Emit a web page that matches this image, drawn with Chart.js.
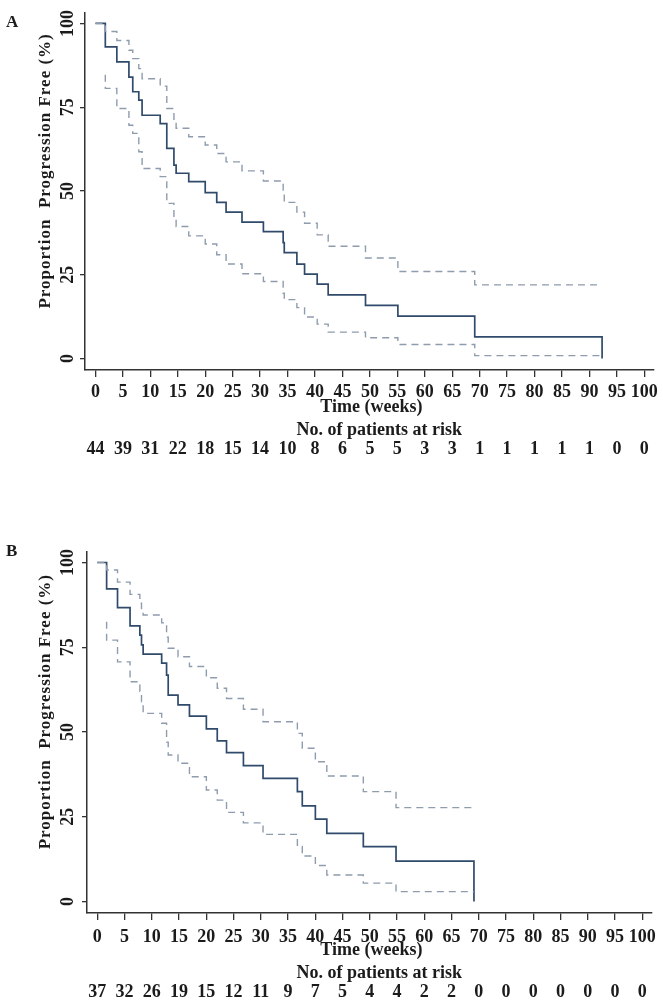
<!DOCTYPE html>
<html>
<head>
<meta charset="utf-8">
<script src="https://cdn.jsdelivr.net/npm/chart.js@4.4.0/dist/chart.umd.min.js"></script>
<style>
  html, body { margin: 0; padding: 0; background: #fff; }
  body { width: 663px; height: 1005px; position: relative; overflow: hidden; }
  canvas { position: absolute; left: 0; }
  #chartA { top: 0; }
  #chartB { top: 530px; }
</style>
</head>
<body>
<canvas id="chartA" width="663" height="470"></canvas>
<canvas id="chartB" width="663" height="475"></canvas>
<script>
// axis ticks
const timeTicks = [0, 5, 10, 15, 20, 25, 30, 35, 40, 45, 50, 55, 60, 65, 70, 75, 80, 85, 90, 95, 100];
const yTicks = [0, 25, 50, 75, 100];

// Panel A - Kaplan-Meier estimate with 95% CI (weeks, %)
const timesA = [0, 1.8, 3.9, 6.1, 6.8, 7.9, 8.5, 11.8, 13.0, 14.3, 14.7, 17.0, 20.0, 22.1, 23.8, 26.7, 30.6, 34.2, 34.4, 36.7, 38.1, 40.4, 42.4, 49.2, 55.1, 69.1, 92.3];
const survA = [100, 93.0, 88.5, 84.0, 79.6, 77.1, 72.6, 70.1, 62.7, 57.7, 55.3, 52.8, 49.5, 46.6, 43.7, 40.7, 37.9, 34.6, 31.6, 28.2, 25.2, 22.2, 19.0, 15.9, 12.7, 6.5, 0];
const upperA = [100, 97.6, 94.9, 92.0, 89.5, 86.5, 83.5, 81.3, 74.6, 70.8, 68.7, 66.2, 63.7, 61.2, 58.7, 56.0, 53.0, 49.8, 46.6, 43.7, 40.4, 36.9, 33.5, 30.0, 26.0, 22.0, 22.0];
const lowTimesA = [1.8, 1.8, 3.9, 6.1, 6.8, 7.9, 8.5, 11.8, 13.0, 14.3, 14.7, 17.0, 20.0, 22.1, 23.8, 26.7, 30.6, 34.2, 34.4, 36.7, 38.1, 40.4, 42.4, 49.2, 55.1, 69.1, 92.3];
const lowerA = [84.7, 80.6, 74.6, 69.6, 67.2, 61.7, 56.7, 54.3, 46.3, 41.6, 39.4, 36.6, 34.2, 31.0, 28.2, 25.3, 23.0, 19.5, 17.6, 15.2, 12.4, 10.3, 7.9, 6.2, 4.2, 0.9, 0.9];
const riskA = [44, 39, 31, 22, 18, 15, 14, 10, 8, 6, 5, 5, 3, 3, 1, 1, 1, 1, 1, 0, 0];

// Panel B
const timesB = [0, 1.7, 3.7, 6.0, 7.8, 8.1, 8.4, 11.8, 12.7, 13.0, 14.8, 16.9, 20.0, 22.0, 23.7, 26.8, 30.4, 36.7, 37.6, 40.0, 42.1, 48.8, 54.8, 69.1];
const survB = [100, 92.2, 86.7, 81.3, 78.6, 75.7, 73.0, 70.3, 66.8, 60.9, 58.0, 54.7, 50.9, 47.4, 43.9, 40.1, 36.3, 32.4, 28.2, 24.3, 20.1, 16.2, 11.9, 0];
const upperB = [100, 97.8, 94.2, 90.6, 88.0, 86.0, 84.5, 82.2, 78.0, 74.7, 72.2, 69.3, 66.0, 62.9, 59.9, 56.7, 53.0, 49.6, 45.2, 41.2, 37.0, 32.4, 27.7, 27.7];
const lowTimesB = [1.7, 1.7, 3.7, 6.0, 7.8, 8.1, 8.4, 11.8, 12.7, 13.0, 14.8, 16.9, 20.0, 22.0, 23.7, 26.8, 30.4, 36.7, 37.6, 40.0, 42.1, 48.8, 54.8, 69.1];
const lowerB = [82.5, 77.1, 70.7, 64.8, 62.0, 58.9, 55.5, 52.6, 47.0, 43.2, 40.8, 36.8, 32.9, 29.9, 26.3, 23.2, 19.8, 16.2, 13.4, 10.6, 7.8, 5.4, 2.9, 2.9];
const riskB = [37, 32, 26, 19, 15, 12, 11, 9, 7, 5, 4, 4, 2, 2, 0, 0, 0, 0, 0, 0, 0];

const serif = '"Liberation Serif", "Times New Roman", serif';
const textColor = '#1b1b1b';
const axisColor = '#333333';
const mainColor = '#2f4a6b';
const ciColor = '#8e9cad';

function toPoints(xs, ys) {
    return xs.map((x, i) => ({ x: x, y: ys[i] }));
}

// rotated y labels, titles and the numbers-at-risk row
const kmText = {
    id: 'kmText',
    afterDraw(chart, args, opts) {
        const ctx = chart.ctx;
        const xs = chart.scales.x, ys = chart.scales.y;
        const area = chart.chartArea;
        ctx.save();
        ctx.fillStyle = textColor;
        ctx.textAlign = 'center';
        ctx.textBaseline = 'middle';

        ctx.font = 'bold 18px ' + serif;
        yTicks.forEach(v => {
            ctx.save();
            ctx.translate(opts.yLabelX, ys.getPixelForValue(v));
            ctx.rotate(-Math.PI / 2);
            ctx.fillText(String(v), 0, 0);
            ctx.restore();
        });

        ctx.save();
        ctx.translate(opts.yTitleX, ys.getPixelForValue(56));
        ctx.rotate(-Math.PI / 2);
        ctx.font = 'bold 17px ' + serif;
        ctx.letterSpacing = '1px';
        ctx.fillText('Proportion  Progression Free (%)', 0, 0);
        ctx.restore();

        ctx.textAlign = 'left';
        ctx.font = 'bold 17px ' + serif;
        ctx.fillText(opts.letter, 6, opts.letterY);

        ctx.textAlign = 'center';
        ctx.font = 'bold 18px ' + serif;
        const mid = (area.left + area.right) / 2;
        ctx.fillText('Time (weeks)', mid + 2, area.bottom + 37);
        ctx.fillText('No. of patients at risk', mid + 10, area.bottom + 60);
        opts.risk.forEach((n, i) => {
            ctx.fillText(String(n), xs.getPixelForValue(timeTicks[i]), area.bottom + 79);
        });
        ctx.restore();
    }
};

function makeKM(id, d, g) {
    const ctx = document.getElementById(id).getContext('2d');
    return new Chart(ctx, {
        type: 'line',
        data: {
            datasets: [{
                label: 'Upper 95% CI',
                data: toPoints(d.times, d.upper),
                borderColor: ciColor,
                borderWidth: 1.4,
                borderDash: [7, 5],
                stepped: 'before',
                pointRadius: 0,
                fill: false
            }, {
                label: 'Lower 95% CI',
                data: toPoints(d.lowTimes, d.lower),
                borderColor: ciColor,
                borderWidth: 1.4,
                borderDash: [7, 5],
                stepped: 'before',
                pointRadius: 0,
                fill: false
            }, {
                label: 'Progression free',
                data: toPoints(d.times, d.surv),
                borderColor: mainColor,
                borderWidth: 1.7,
                stepped: 'before',
                pointRadius: 0,
                fill: false
            }]
        },
        options: {
            responsive: false,
            animation: false,
            layout: { padding: { top: g.top, right: g.right, left: 0, bottom: 0 } },
            plugins: {
                legend: { display: false },
                tooltip: { enabled: false },
                kmText: { letter: d.letter, letterY: g.letterY, risk: d.risk, yLabelX: 68, yTitleX: 46 }
            },
            scales: {
                x: {
                    type: 'linear',
                    min: -1.9,
                    max: 101.7,
                    afterBuildTicks: s => { s.ticks = timeTicks.map(v => ({ value: v })); },
                    afterFit: s => { s.height = g.xHeight; },
                    grid: { drawOnChartArea: false, drawTicks: true, tickLength: 7, color: axisColor, lineWidth: 1.3 },
                    border: { display: true, color: axisColor, width: 1.5 },
                    ticks: {
                        autoSkip: false,
                        maxRotation: 0,
                        padding: g.tickPad,
                        color: textColor,
                        font: { family: serif, size: 18, weight: 'bold' }
                    }
                },
                y: {
                    type: 'linear',
                    min: -3.4,
                    max: 103.1,
                    afterBuildTicks: s => { s.ticks = yTicks.map(v => ({ value: v })); },
                    afterFit: s => { s.width = g.left; },
                    grid: { drawOnChartArea: false, drawTicks: true, tickLength: 5, color: axisColor, lineWidth: 1.3 },
                    border: { display: true, color: axisColor, width: 1.5 },
                    ticks: { display: false }
                }
            }
        },
        plugins: [kmText]
    });
}

makeKM('chartA',
    { times: timesA, surv: survA, upper: upperA, lowTimes: lowTimesA, lower: lowerA, risk: riskA, letter: 'A' },
    { top: 13, right: 9, left: 85, xHeight: 100, tickPad: 5, letterY: 23 });

makeKM('chartB',
    { times: timesB, surv: survB, upper: upperB, lowTimes: lowTimesB, lower: lowerB, risk: riskB, letter: 'B' },
    { top: 22, right: 8, left: 87, xHeight: 92, tickPad: 7, letterY: 22 });
</script>
</body>
</html>
